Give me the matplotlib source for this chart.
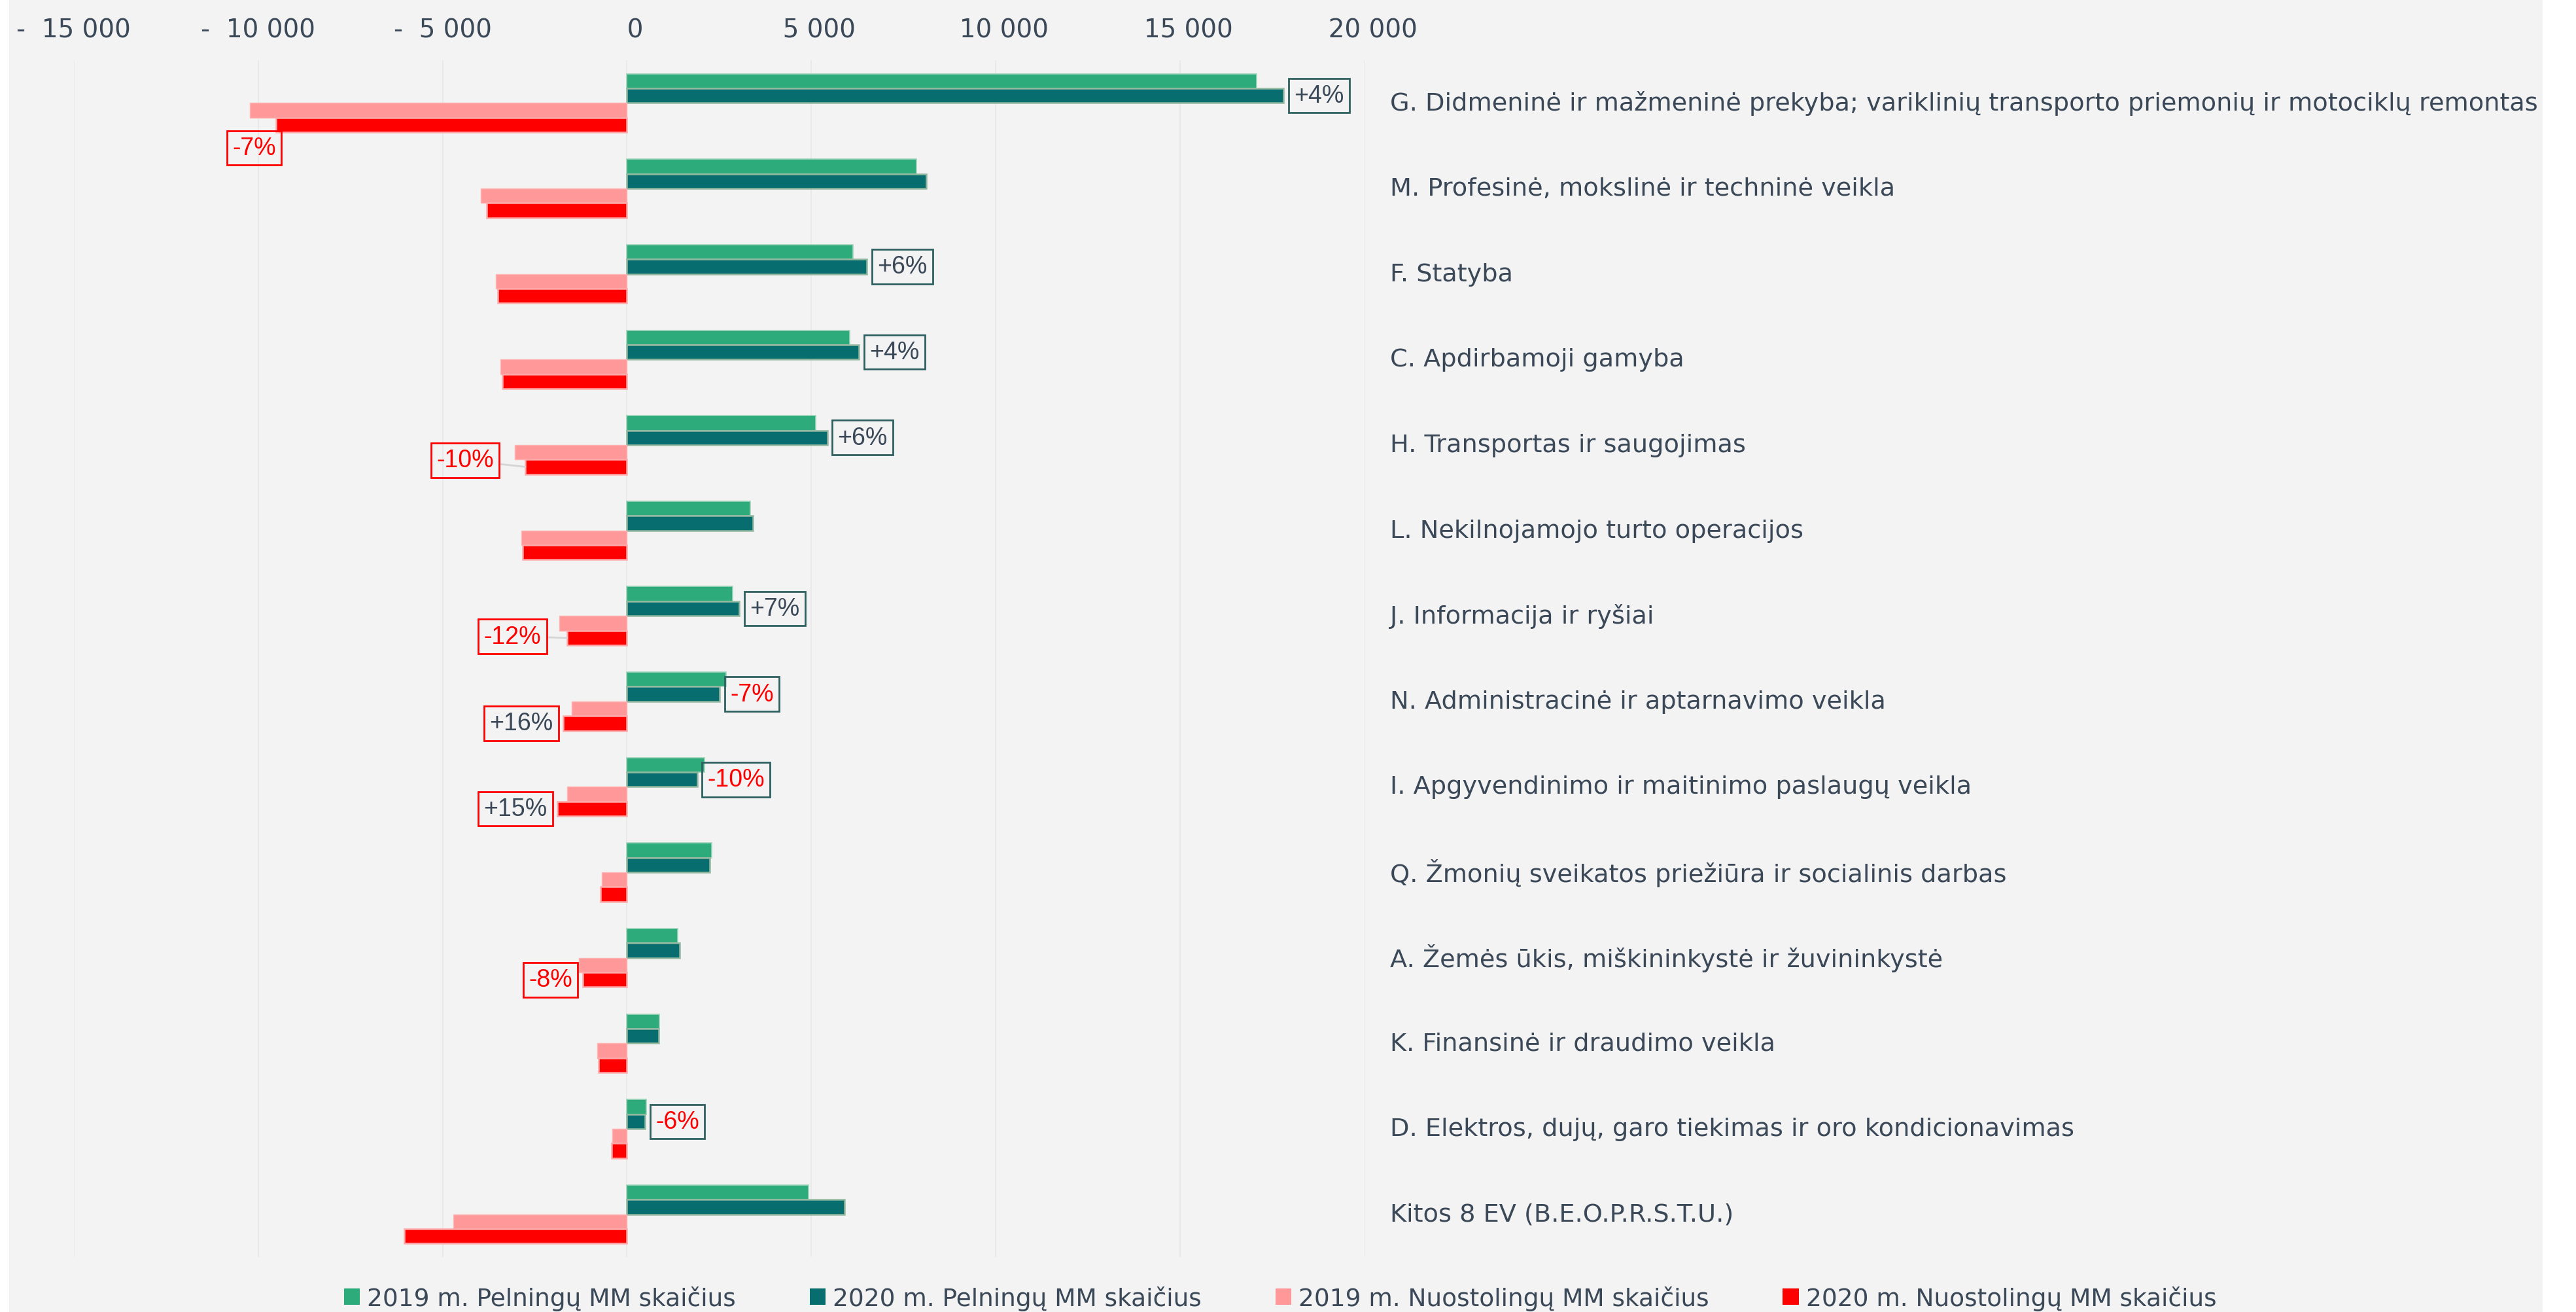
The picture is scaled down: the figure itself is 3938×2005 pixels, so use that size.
import matplotlib
matplotlib.use("Agg")
import numpy as np
import matplotlib.pyplot as plt
from matplotlib.patches import Rectangle, Patch
from matplotlib.ticker import FuncFormatter, MultipleLocator

# data
categories = [
    "G. Didmeninė ir mažmeninė prekyba; variklinių transporto priemonių ir motociklų remontas",
    "M. Profesinė, mokslinė ir techninė veikla",
    "F. Statyba",
    "C. Apdirbamoji gamyba",
    "H. Transportas ir saugojimas",
    "L. Nekilnojamojo turto operacijos",
    "J. Informacija ir ryšiai",
    "N. Administracinė ir aptarnavimo veikla",
    "I. Apgyvendinimo ir maitinimo paslaugų veikla",
    "Q. Žmonių sveikatos priežiūra ir socialinis darbas",
    "A. Žemės ūkis, miškininkystė ir žuvininkystė",
    "K. Finansinė ir draudimo veikla",
    "D. Elektros, dujų, garo tiekimas ir oro kondicionavimas",
    "Kitos 8 EV (B.E.O.P.R.S.T.U.)",
]
profit_2019 = [17080, 7850, 6130, 6040, 5110, 3350, 2870, 2690, 2100, 2290, 1380, 880, 520, 4930]
profit_2020 = [17800, 8120, 6510, 6290, 5430, 3420, 3050, 2510, 1900, 2240, 1420, 860, 490, 5900]
loss_2019 = [10220, 3960, 3550, 3440, 3050, 2870, 1830, 1490, 1630, 680, 1310, 810, 390, 4700]
loss_2020 = [9520, 3800, 3510, 3370, 2760, 2830, 1630, 1720, 1880, 720, 1200, 770, 410, 6040]

series_names = ["2019 m. Pelningų MM skaičius", "2020 m. Pelningų MM skaičius",
                "2019 m. Nuostolingų MM skaičius", "2020 m. Nuostolingų MM skaičius"]

# change labels: row -> text
profit_change = {0: "+4%", 2: "+6%", 3: "+4%", 4: "+6%", 6: "+7%", 7: "-7%", 8: "-10%", 12: "-6%"}
loss_change = {0: "-7%", 4: "-10%", 6: "-12%", 7: "+16%", 8: "+15%", 10: "-8%"}

BG = "#f3f3f3"
TXT = "#3a4858"
GREEN = "#2eab7a"
TEAL = "#086d6e"
PINK = "#ff9999"
RED = "#ff0000"
BOXDARK = "#2f6060"

fig = plt.figure(figsize=(39.38, 20.06), dpi=100, facecolor="white")
fig.patches.append(Rectangle((14/3938, 0), (3887-14)/3938, 1, transform=fig.transFigure,
                             facecolor=BG, edgecolor="none", zorder=-10))

ax = fig.add_axes([112.8/3938, 1-1922/2006, (2086-112.8)/3938, (1922-93)/2006])
ax.set_facecolor(BG)
ax.patch.set_alpha(0)

y = np.arange(len(categories))
h = 0.171
off = 0.0855
ax.barh(y - 3*off, profit_2019, height=h, color=GREEN, edgecolor="#9fd3bb", linewidth=1.2, zorder=3)
ax.barh(y - off, profit_2020, height=h, color=TEAL, edgecolor="#93b8a0", linewidth=1.8, zorder=3)
ax.barh(y + off, -np.array(loss_2019), height=h, color=PINK, edgecolor="#ffb3b3", linewidth=1.0, zorder=3)
ax.barh(y + 3*off, -np.array(loss_2020), height=h, color=RED, edgecolor="#ffaaaa", linewidth=1.8, zorder=3)

ax.set_xlim(-15000, 20000)
ax.set_ylim(len(categories) - 0.5, -0.5)
ax.xaxis.set_major_locator(MultipleLocator(5000))


def fmt(v, pos):
    s = f"{abs(int(round(v))):,}".replace(",", " ")
    return ("-  " + s) if v < 0 else ("  " + s)


ax.xaxis.set_major_formatter(FuncFormatter(fmt))
ax.xaxis.tick_top()
ax.tick_params(axis="x", length=0, pad=20, labelsize=28, labelcolor=TXT)
ax.set_yticks([])
for s in ax.spines.values():
    s.set_visible(False)
ax.grid(axis="x", color="#e8e8e8", linewidth=1.2, zorder=0)
ax.set_axisbelow(True)

for lab in ax.get_xticklabels():
    lab.set_family("DejaVu Sans")

# category labels to the right of the plot
for i, c in enumerate(categories):
    ax.text(1.0197, i, c, transform=ax.get_yaxis_transform(), ha="left", va="center",
            fontsize=27.5, color=TXT, family="DejaVu Sans")

pfont = dict(fontsize=27, family="Liberation Sans")


def pct_color(t):
    return RED if t.startswith("-") else TXT


for i, t in profit_change.items():
    ax.annotate(t, xy=(profit_2020[i], y[i] - off), xytext=(16, 0), textcoords="offset pixels",
                ha="left", va="center", color=pct_color(t), zorder=5,
                bbox=dict(boxstyle="square,pad=0.22", facecolor="none", edgecolor=BOXDARK, linewidth=2),
                **pfont)

for i, t in loss_change.items():
    xy = (-loss_2020[i], y[i] + 3*off)
    if i == 0:
        ax.annotate(t, xy=xy, xytext=(-33, -35), textcoords="offset pixels",
                    ha="center", va="center", color=pct_color(t), zorder=5,
                    bbox=dict(boxstyle="square,pad=0.22", facecolor="none", edgecolor=RED, linewidth=2),
                    **pfont)
    elif i in (4, 6):
        dx = -92 if i == 4 else -83
        dy = 10 if i == 4 else 2
        ax.annotate(t, xy=xy, xytext=(dx, dy), textcoords="offset pixels",
                    ha="center", va="center", color=pct_color(t), zorder=5,
                    bbox=dict(boxstyle="square,pad=0.22", facecolor="none", edgecolor=RED, linewidth=2),
                    arrowprops=dict(arrowstyle="-", color="#d5d5d5", lw=2, shrinkA=0, shrinkB=0),
                    **pfont)
    else:
        ax.annotate(t, xy=xy, xytext=(-16, 0), textcoords="offset pixels",
                    ha="right", va="center", color=pct_color(t), zorder=5,
                    bbox=dict(boxstyle="square,pad=0.22", facecolor="none", edgecolor=RED, linewidth=2),
                    **pfont)

handles = [Patch(facecolor=c, edgecolor="none") for c in (GREEN, TEAL, PINK, RED)]
leg = fig.legend(handles, series_names, loc="center", bbox_to_anchor=(0.497, 1-1985/2006), ncol=4,
                 frameon=False, handlelength=0.65, handleheight=0.65,
                 handletextpad=0.3, columnspacing=3.0,
                 prop={"family": "DejaVu Sans", "size": 27})
for t in leg.get_texts():
    t.set_color(TXT)

fig.savefig("out.png", dpi=100, facecolor="white")
